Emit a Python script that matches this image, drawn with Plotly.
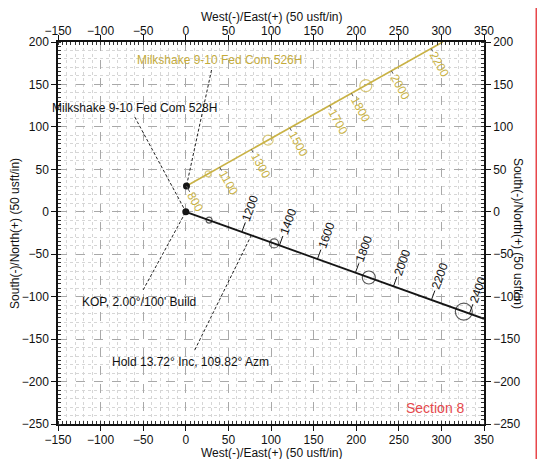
import plotly.graph_objects as go

# ---------------- data ----------------
# Well 528H (black) plan-view path, East / North (usft)
path528_e = [0, 350]
path528_n = [0, -126.1]
md528 = [1200, 1400, 1600, 1800, 2000, 2200, 2400]
md528_e = [65.8, 109.9, 154.5, 199.1, 243.7, 288.3, 332.9]
md528_n = [-23.7, -39.6, -55.7, -71.8, -87.9, -103.9, -120.0]
ell528_e = [27.3, 103.6, 214.8, 326.3]
ell528_n = [-9.8, -37.3, -77.4, -117.6]
ell528_size = [6, 9, 13, 17]

# Well 526H (yellow) plan-view path
path526_e = [0.8, 301.5]
path526_n = [30.4, 200.0]
md526 = [800, 1100, 1300, 1500, 1700, 1800, 2000, 2200]
md526_e = [0.8, 39.9, 77.1, 122.1, 169.0, 194.5, 241.4, 288.0]
md526_n = [30.4, 52.4, 73.4, 98.8, 125.2, 139.5, 166.0, 192.2]
ell526_e = [26.2, 96.6, 211.3]
ell526_n = [44.7, 84.4, 148.6]
ell526_size = [6, 10, 12]

# Surface / KOP points
dots_e = [0, 0.8]
dots_n = [0, 30.4]

# Callouts: text, label centre (E,N), leader start (E,N), leader end (E,N), colour
callout_text = ["Milkshake 9-10 Fed Com 526H", "Milkshake 9-10 Fed Com 528H",
                "KOP, 2.00°/100' Build", "Hold 13.72° Inc, 109.82° Azm"]
callout_pos_e = [39.9, -60.5, -55.2, 5.9]
callout_pos_n = [178.8, 122.3, -106.2, -176.9]
leader_from_e = [30.2, -59.9, -50.1, 10.6]
leader_from_n = [167.0, 111.6, -92.1, -162.7]
leader_to_e = [0.8, 0, 0, 76.9]
leader_to_n = [30.4, 0, 0, -27.7]
callout_color = ["#c4ab3c", "#111111", "#111111", "#111111"]

x_range = [-150, 350]
y_range = [-250, 200]
axis_title_x = "West(-)/East(+) (50 usft/in)"
axis_title_y = "South(-)/North(+) (50 usft/in)"

BLACK = "#151515"
YEL = "#c9b245"
FONT = "Liberation Sans, Arial, sans-serif"

fig = go.Figure()

# leaders (dashed)
for i in range(len(callout_text)):
    fig.add_trace(go.Scatter(x=[leader_from_e[i], leader_to_e[i]],
                             y=[leader_from_n[i], leader_to_n[i]],
                             mode="lines", line=dict(color="#222", width=1, dash="3px,2px"),
                             hoverinfo="skip", showlegend=False))

# yellow path
fig.add_trace(go.Scatter(x=path526_e, y=path526_n, mode="lines",
                         line=dict(color=YEL, width=1.6), showlegend=False, hoverinfo="skip"))
fig.add_trace(go.Scatter(x=ell526_e, y=ell526_n, mode="markers",
                         marker=dict(symbol="circle-open", size=ell526_size, color=YEL,
                                     line=dict(width=1.2, color=YEL)),
                         showlegend=False, hoverinfo="skip"))
# black path
fig.add_trace(go.Scatter(x=path528_e, y=path528_n, mode="lines",
                         line=dict(color=BLACK, width=1.8), showlegend=False, hoverinfo="skip"))
fig.add_trace(go.Scatter(x=ell528_e, y=ell528_n, mode="markers",
                         marker=dict(symbol="circle-open", size=ell528_size, color=BLACK,
                                     line=dict(width=1.2, color=BLACK)),
                         showlegend=False, hoverinfo="skip"))
fig.add_trace(go.Scatter(x=dots_e, y=dots_n, mode="markers",
                         marker=dict(symbol="circle", size=7, color=BLACK),
                         showlegend=False, hoverinfo="skip"))

# invisible traces to create the label axes
fig.add_trace(go.Scatter(x=[None], y=[None], xaxis="x2", yaxis="y2", showlegend=False, hoverinfo="skip"))
fig.add_trace(go.Scatter(x=[None], y=[None], xaxis="x3", yaxis="y3", showlegend=False, hoverinfo="skip"))

ann = []
# MD labels black (reading upward)
for md, e, n in zip(md528, md528_e, md528_n):
    ann.append(dict(x=e, y=n, xref="x", yref="y", text=str(md), textangle=-70,
                    showarrow=True, arrowhead=0, arrowwidth=1, arrowcolor=BLACK,
                    ax=8.6, ay=-23.5, standoff=0, startstandoff=0,
                    font=dict(family=FONT, size=12, color=BLACK)))
# MD labels yellow (reading downward)
for md, e, n in zip(md526, md526_e, md526_n):
    ann.append(dict(x=e, y=n, xref="x", yref="y", text=str(md), textangle=61,
                    showarrow=True, arrowhead=0, arrowwidth=1, arrowcolor="#555",
                    ax=8.7, ay=16.0, standoff=0, startstandoff=0,
                    font=dict(family=FONT, size=12, color=YEL)))
# callouts
for t, e, n, c in zip(callout_text, callout_pos_e, callout_pos_n, callout_color):
    ann.append(dict(x=e, y=n, xref="x", yref="y", text=t, showarrow=False,
                    xanchor="center", yanchor="middle",
                    font=dict(family=FONT, size=12, color=c)))
# Section label
ann.append(dict(x=293.4, y=-231.2, xref="x", yref="y", text="Section 8", showarrow=False,
                xanchor="center", yanchor="middle",
                font=dict(family=FONT, size=14, color="#e5484d")))
# axis titles
ann.append(dict(x=0.5, y=1.065, xref="paper", yref="paper", text=axis_title_x, showarrow=False,
                xanchor="center", yanchor="middle", font=dict(family=FONT, size=12, color="#111")))
ann.append(dict(x=0.5, y=-0.0755, xref="paper", yref="paper", text=axis_title_x, showarrow=False,
                xanchor="center", yanchor="middle", font=dict(family=FONT, size=12, color="#111")))
ann.append(dict(x=0.5, y=-0.104, xref="paper", yref="paper", text=axis_title_x, showarrow=False,
                xanchor="center", yanchor="middle", xshift=48,
                font=dict(family=FONT, size=12, color="#111")))
ann.append(dict(x=-0.101, y=0.5, xref="paper", yref="paper", text=axis_title_y, showarrow=False,
                xanchor="center", yanchor="middle", textangle=-90,
                font=dict(family=FONT, size=12, color="#111")))
ann.append(dict(x=1.08, y=0.5, xref="paper", yref="paper", text=axis_title_y, showarrow=False,
                xanchor="center", yanchor="middle", textangle=90,
                font=dict(family=FONT, size=12, color="#111")))

grid_axis = dict(dtick=50, tick0=0, showticklabels=False, ticks="", showline=False,
                 showgrid=True, gridcolor="#a9a9a9", griddash="dash", gridwidth=1,
                 zeroline=False, fixedrange=True,
                 minor=dict(dtick=10, showgrid=True, gridcolor="#d6d6d6", griddash="dot",
                            gridwidth=1, ticks=""))
label_axis = dict(dtick=50, tick0=0, showticklabels=True, ticks="outside", ticklen=5,
                  tickwidth=1, tickcolor="#111", showline=True, linecolor="#111", linewidth=1.5,
                  showgrid=False, zeroline=False, fixedrange=True,
                  tickfont=dict(family=FONT, size=12, color="#111"),
                  minor=dict(dtick=5, ticks="inside", ticklen=3, tickcolor="#333", showgrid=False))

# the page body adds an 8px margin, so the figure is drawn 8px smaller with shifted margins
fig.update_layout(
    width=537, height=451,
    margin=dict(l=50, r=61, t=34, b=35),
    paper_bgcolor="white", plot_bgcolor="white",
    showlegend=False,
    xaxis=dict(range=x_range, **grid_axis),
    yaxis=dict(range=y_range, **grid_axis),
    xaxis2=dict(range=x_range, overlaying="x", side="top", anchor="y2",
                ticklabelstandoff=-5, **label_axis),
    yaxis2=dict(range=y_range, overlaying="y", side="right", anchor="x2", **label_axis),
    xaxis3=dict(range=x_range, overlaying="x", side="bottom", anchor="y3",
                ticklabelstandoff=-1, **label_axis),
    yaxis3=dict(range=y_range, overlaying="y", side="left", anchor="x3", **label_axis),
    annotations=ann,
    shapes=[dict(type="line", xref="paper", yref="paper", x0=1.1244, x1=1.1244, y0=-0.2, y1=1.2,
                 line=dict(color="#e8474b", width=3))],
)

fig.write_html("out.html")
